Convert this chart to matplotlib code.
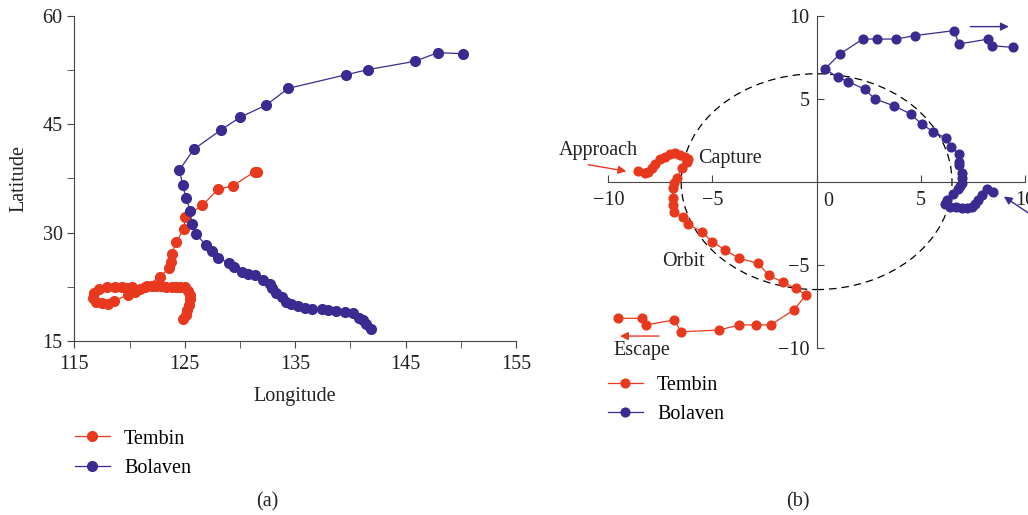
#Tembin / Bolaven tracks: (a) lon-lat, (b) relative positions
import numpy as np
import matplotlib
matplotlib.use('Agg')
import matplotlib.pyplot as plt
from matplotlib.patches import Ellipse

plt.rcParams['font.family'] = ['Liberation Serif', 'DejaVu Serif']
plt.rcParams['font.size'] = 14.5

red = '#e8391e'
blue = '#3b2a8f'
axcol = '#444444'
txtcol = '#222222'

# panel (a): geographic tracks
tembin_lon = [124.85, 125.09, 125.24, 125.39, 125.45, 125.45, 125.33, 125.00, 124.61, 124.25,
              123.80, 123.34, 122.89, 122.44, 121.99, 121.54, 120.18, 119.73, 119.28, 118.67,
              117.92, 117.26, 116.78, 116.72, 116.96, 117.47, 118.07, 118.61, 119.88, 120.48,
              120.93, 121.39, 122.74, 123.58, 123.73, 123.86, 124.22, 124.91, 125.03, 126.60,
              128.01, 129.37, 131.33, 131.54]
tembin_lat = [18.04, 18.64, 19.33, 20.02, 20.80, 21.40, 22.00, 22.46, 22.55, 22.55,
              22.55, 22.55, 22.64, 22.69, 22.69, 22.64, 22.46, 22.37, 22.46, 22.55,
              22.46, 22.18, 21.63, 21.03, 20.48, 20.25, 20.16, 20.62, 21.40, 21.86,
              22.18, 22.46, 23.93, 25.09, 26.01, 27.07, 28.77, 30.47, 32.22, 33.79,
              36.00, 36.51, 38.44, 38.44]

bolaven_lon = [141.87, 141.42, 141.17, 140.81, 140.21, 139.49, 138.73, 137.95, 137.44, 136.51,
               135.90, 135.27, 134.58, 134.13, 133.83, 133.22, 132.89, 132.68, 132.11, 131.33,
               130.72, 130.18, 129.46, 129.01, 128.04, 127.44, 126.90, 126.02, 125.63, 125.51,
               125.12, 124.82, 124.52, 125.81, 128.31, 130.00, 132.38, 134.37, 139.64, 141.57,
               145.81, 147.92, 150.21]
bolaven_lat = [16.70, 17.39, 17.94, 18.17, 18.86, 19.09, 19.18, 19.32, 19.41, 19.41,
               19.60, 19.88, 20.15, 20.38, 21.08, 21.63, 22.32, 22.92, 23.47, 24.16,
               24.30, 24.62, 25.32, 25.78, 26.56, 27.53, 28.31, 29.83, 31.26, 32.96,
               34.76, 36.55, 38.67, 41.53, 44.25, 45.95, 47.66, 49.96, 51.85, 52.54,
               53.69, 54.89, 54.75]

# panel (b): relative coordinates
tembin_x = [-8.56, -8.24, -8.08, -7.92, -7.76, -7.52, -7.28, -7.04, -6.80, -6.56,
            -6.32, -6.16, -6.24, -6.48, -6.72, -6.85, -6.91, -6.88, -6.88, -6.85,
            -6.40, -6.19, -5.52, -5.01, -4.40, -3.71, -2.80, -2.30, -1.60, -1.01,
            -0.51, -1.09, -2.21, -2.91, -3.71, -4.70, -6.51, -6.83, -8.21, -8.40, -9.52]
tembin_y = [0.64, 0.50, 0.60, 0.81, 1.05, 1.37, 1.51, 1.65, 1.71, 1.61,
            1.51, 1.37, 1.20, 0.81, 0.20, -0.10, -0.40, -1.00, -1.40, -1.81,
            -2.15, -2.55, -3.01, -3.61, -4.12, -4.62, -4.92, -5.64, -6.06, -6.43,
            -6.83, -7.73, -8.63, -8.63, -8.63, -8.94, -9.04, -8.33, -8.63, -8.23, -8.23]

bolaven_x = [8.48, 8.16, 7.92, 7.76, 7.60, 7.44, 7.20, 6.96, 6.69, 6.40,
             6.16, 6.24, 6.56, 6.80, 6.88, 6.96, 6.99, 6.96, 6.85, 6.85,
             6.85, 6.43, 6.21, 5.60, 5.04, 4.51, 3.73, 2.80, 2.32, 1.52,
             1.01, 0.40, 1.12, 2.21, 2.91, 3.81, 4.72, 6.61, 6.82, 8.24,
             8.42, 9.41]
bolaven_y = [-0.60, -0.46, -0.80, -1.10, -1.34, -1.50, -1.60, -1.57, -1.54, -1.50,
             -1.34, -1.10, -0.74, -0.46, -0.26, -0.06, 0.20, 0.51, 1.01, 1.20,
             1.67, 2.11, 2.61, 3.01, 3.47, 4.08, 4.56, 4.98, 5.56, 6.02,
             6.29, 6.79, 7.69, 8.59, 8.59, 8.59, 8.80, 9.10, 8.29, 8.59,
             8.19, 8.09]

orbit_radius = 6.5

fig = plt.figure(figsize=(10.28, 5.15), dpi=100)
ax1 = fig.add_axes([0.0723, 0.3373, 0.4297, 0.6322])
ax2 = fig.add_axes([0.5917, 0.3249, 0.4053, 0.6447])

# ---- (a)
ax1.plot(tembin_lon, tembin_lat, '-o', color=red, lw=0.9, ms=7, label='Tembin')
ax1.plot(bolaven_lon, bolaven_lat, '-o', color=blue, lw=0.9, ms=7, label='Bolaven')
ax1.set_xlim(115, 155)
ax1.set_ylim(15, 60)
ax1.set_xticks([115, 125, 135, 145, 155])
ax1.set_xticks([120, 130, 140, 150], minor=True)
ax1.set_yticks([15, 30, 45, 60])
ax1.set_yticks([22.5, 37.5, 52.5], minor=True)
for s in ['top', 'right']:
    ax1.spines[s].set_visible(False)
for s in ['left', 'bottom']:
    ax1.spines[s].set_color(axcol)
ax1.tick_params(which='both', length=5, color=axcol, labelcolor=txtcol)
ax1.tick_params(axis='x', pad=5)
ax1.set_xlabel('Longitude', color=txtcol, labelpad=9)
ax1.set_ylabel('Latitude', color=txtcol, labelpad=10)
ax1.legend(loc='upper left', bbox_to_anchor=(-0.04, -0.215), frameon=False,
           handlelength=1.75, handletextpad=0.7, labelspacing=0.5)

# ---- (b)
ax2.add_patch(Ellipse((0, 0), 2 * orbit_radius, 2 * orbit_radius, fill=False,
                      ls=(0, (6, 4)), lw=0.9, color='black'))
ax2.plot(tembin_x, tembin_y, '-o', color=red, lw=0.9, ms=6.3, label='Tembin', zorder=3)
ax2.plot(bolaven_x, bolaven_y, '-o', color=blue, lw=0.9, ms=6.3, label='Bolaven', zorder=3)
ax2.set_xlim(-10, 10)
ax2.set_ylim(-10, 10)
for s in ['top', 'right']:
    ax2.spines[s].set_visible(False)
ax2.spines['left'].set_position('zero')
ax2.spines['bottom'].set_position('zero')
for s in ['left', 'bottom']:
    ax2.spines[s].set_color(axcol)
ax2.set_xticks([-10, -5, 0, 5, 10])
ax2.set_xticklabels(['\u221210', '\u22125', '', '5', '10'])
ax2.set_yticks([-10, -5, 5, 10])
ax2.set_yticklabels(['\u221210', '\u22125', '5', '10'])
ax2.tick_params(which='both', direction='in', length=5, color=axcol, labelcolor=txtcol)
ax2.tick_params(axis='x', pad=7)
ax2.tick_params(axis='y', pad=5)
ax2.text(0.56, -0.6, '0', ha='center', va='top', color=txtcol)

ax2.annotate('', xy=(-9.0, 0.60), xytext=(-11.09, 1.05), annotation_clip=False,
             arrowprops=dict(arrowstyle='-|>', color=red, lw=1, mutation_scale=12))
ax2.annotate('', xy=(-9.57, -9.30), xytext=(-7.44, -9.30), annotation_clip=False,
             arrowprops=dict(arrowstyle='-|>', color=red, lw=1, mutation_scale=12))
ax2.annotate('', xy=(9.36, 9.34), xytext=(7.25, 9.34), annotation_clip=False,
             arrowprops=dict(arrowstyle='-|>', color=blue, lw=1, mutation_scale=12))
ax2.annotate('', xy=(8.88, -0.80), xytext=(10.3, -2.0), annotation_clip=False,
             arrowprops=dict(arrowstyle='-|>', color=blue, lw=1, mutation_scale=12))

ax2.text(-10.46, 1.9, 'Approach', ha='center', va='center', color=txtcol)
ax2.text(-5.7, 1.37, 'Capture', ha='left', va='center', color=txtcol)
ax2.text(-6.4, -4.78, 'Orbit', ha='center', va='center', color=txtcol)
ax2.text(-8.39, -10.2, 'Escape', ha='center', va='center', color=txtcol)

ax2.legend(loc='upper left', bbox_to_anchor=(-0.045, -0.03), frameon=False,
           handlelength=1.75, handletextpad=0.7, labelspacing=0.5)

fig.text(0.2597, 0.025, '(a)', ha='center', va='center', color=txtcol)
fig.text(0.7763, 0.025, '(b)', ha='center', va='center', color=txtcol)

fig.savefig('out.png', dpi=100)
